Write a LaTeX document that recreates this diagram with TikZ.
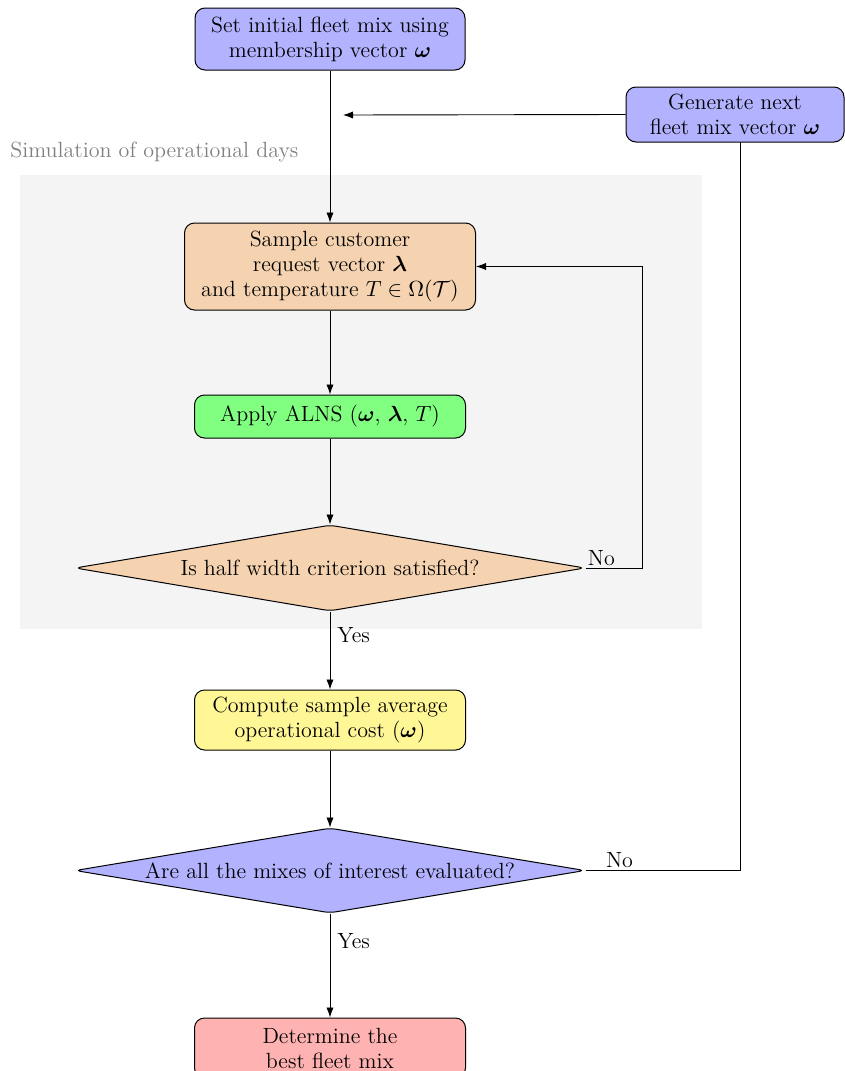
\documentclass[tikz,border=0pt]{standalone}
\usepackage{amsmath}
\usetikzlibrary{shapes.geometric,arrows.meta}
\definecolor{peach}{RGB}{245,211,176}
\definecolor{pyellow}{RGB}{255,247,150}
\definecolor{bggray}{RGB}{244,244,244}
\tikzset{
  box/.style={draw, rounded corners=5pt, align=center, inner sep=2pt, line width=0.5pt},
  dec/.style={draw, diamond, rounded corners=3pt, align=center, inner sep=0pt, aspect=5.9, line width=0.5pt},
  arr/.style={-{Latex[length=5pt,width=3.6pt]}, line width=0.45pt},
  ln/.style={line width=0.45pt},
  lbl/.style={inner sep=1pt},
  ylbl/.style={inner sep=3.5pt}
}
\begin{document}
\begin{tikzpicture}[x=0.5pt,y=-0.5pt, font=\fontsize{11}{12.5}\selectfont]
\useasboundingbox (0,0) rectangle (845,1071);
\fill[bggray] (20,175) rectangle (702,629);
\node[anchor=west, text=gray, inner sep=0pt] (simlbl) at (10,152) {Simulation of operational days};

\node[box, fill=blue!30, minimum width=135pt, minimum height=31pt] (init) at (330,39)
  {Set initial fleet mix using\\ membership vector $\boldsymbol{\omega}$};
\node[box, fill=blue!30, minimum width=109pt, minimum height=27.5pt] (gen) at (735,114.5)
  {Generate next\\ fleet mix vector $\boldsymbol{\omega}$};
\node[box, fill=peach, minimum width=145.5pt, minimum height=43.5pt] (samp) at (330,266.5)
  {Sample customer\\ request vector $\boldsymbol{\lambda}$\\ and temperature $T \in \Omega(\mathcal{T})$};
\node[box, fill=green!50, minimum width=135.5pt, minimum height=21.5pt] (alns) at (330,416.5)
  {Apply ALNS ($\boldsymbol{\omega}$, $\boldsymbol{\lambda}$, $T$)};
\node[dec, fill=peach, minimum width=255pt, minimum height=43pt] (d1) at (330,568)
  {Is half width criterion satisfied?};
\node[box, fill=pyellow, minimum width=135.5pt, minimum height=30pt] (comp) at (330,720)
  {Compute sample average\\ operational cost ($\boldsymbol{\omega}$)};
\node[dec, fill=blue!30, minimum width=255pt, minimum height=42.5pt] (d2) at (330,870.5)
  {Are all the mixes of interest evaluated?};
\node[box, fill=red!30, minimum width=135.5pt, minimum height=30pt] (fin) at (330,1048)
  {Determine the\\ best fleet mix};

\coordinate (entry) at (343,115);
\coordinate (loopA) at (642,568);
\coordinate (loopB) at (740,142);

\draw[arr] (init.south) -- (samp.north);
\draw[arr] (gen.west) -- (entry);
\draw[arr] (samp.south) -- (alns.north);
\draw[arr] (alns.south) -- (d1.north);
\draw[arr] (d1.south) -- node[ylbl, right, pos=0.3] {Yes} (comp.north);
\draw[arr] (comp.south) -- (d2.north);
\draw[arr] (d2.south) -- node[ylbl, right, pos=0.27] {Yes} (fin.north);
\draw[arr] (d1.east) -- node[lbl, above, pos=0.28] {No} (loopA) |- (samp.east);
\draw[ln] (d2.east) -- node[lbl, above, pos=0.22] {No} (loopB |- d2.east) -- (loopB);
\end{tikzpicture}
\end{document}
